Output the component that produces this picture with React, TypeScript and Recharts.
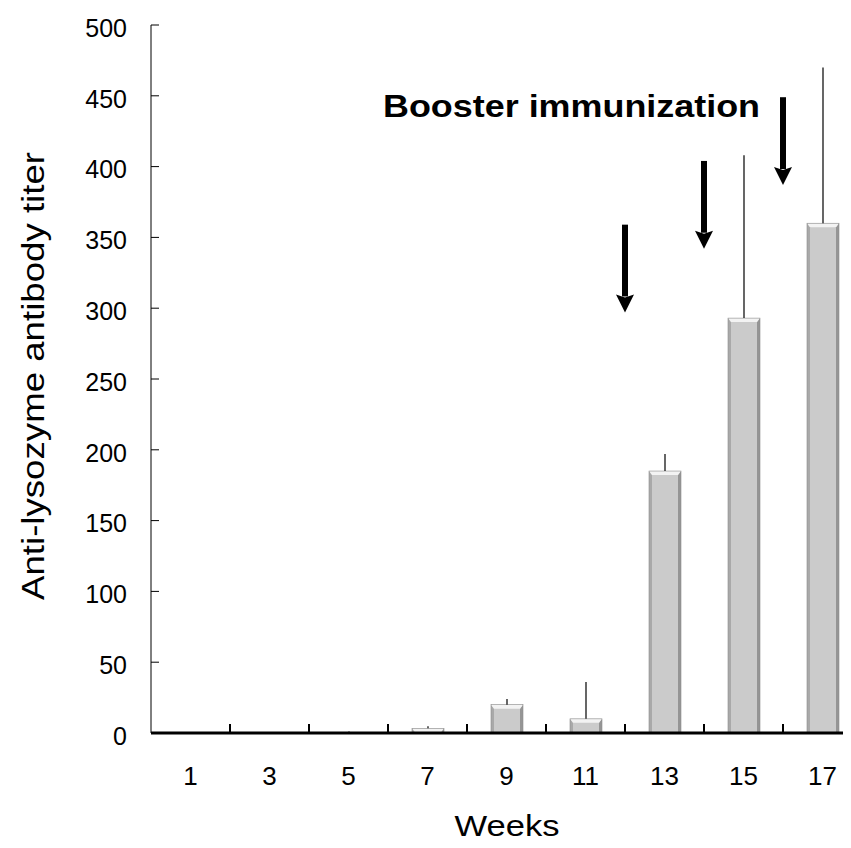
import React from "react";
import { BarChart, Bar, XAxis, YAxis, ErrorBar, ReferenceLine } from "recharts";

// weeks after first immunization
const weeks = ["1", "3", "5", "7", "9", "11", "13", "15", "17"];
// mean anti-lysozyme titer
const titer = [0, 0.3, 0.5, 3.3, 20, 10, 185, 293, 360];
// upper error (SD), only drawn upward
const sdUpper = [0, 0, 0.5, 1.5, 4, 26, 12, 115, 110];

const yTicks = [0, 50, 100, 150, 200, 250, 300, 350, 400, 450, 500];

// booster arrows: drawn at the right edge of these weeks' bands
const boosterAfter = ["11", "13", "15"];
const boosterFrom = [359, 404, 449];
const boosterTo = [297, 342, 387];

const data = weeks.map((w, i) => ({
  week: w,
  titer: titer[i],
  err: [0, sdUpper[i]],
}));

const FONT = '"Liberation Sans", Arial, Helvetica, sans-serif';

const CHART_W = 860;
const MARGIN = { top: 17, right: 6, bottom: 55, left: 63 };
const Y_AXIS_W = 80;
const BAND = (CHART_W - MARGIN.left - MARGIN.right - Y_AXIS_W) / weeks.length;
const X_LABEL_GAP = 34;
const Y_LABEL_GAP = 24;

function BevelBar(props: any) {
  const { x, y, width: w, height: h } = props;
  if (!h || h <= 0) return <g />;
  const b = Math.min(3, w / 4);
  const t = Math.min(4, h);
  return (
    <g>
      <rect x={x} y={y} width={w} height={h} fill="#cbcbcb" />
      <polygon
        points={`${x},${y} ${x + b},${y + t} ${x + b},${y + h} ${x},${y + h}`}
        fill="#a9a9a9"
      />
      <polygon
        points={`${x + w},${y} ${x + w - b},${y + t} ${x + w - b},${y + h} ${x + w},${y + h}`}
        fill="#959595"
      />
      <polygon
        points={`${x},${y} ${x + w},${y} ${x + w - b},${y + t} ${x + b},${y + t}`}
        fill="#f3f3f3"
      />
      <rect x={x} y={y} width={w} height={h} fill="none" stroke="#8c8c8c" strokeWidth={0.6} />
    </g>
  );
}

function Arrow(props: any) {
  const { x1, y1, y2 } = props;
  const head = 18;
  const half = 9;
  return (
    <g>
      <rect x={x1 - 3} y={y1} width={6} height={y2 - y1 - head + 2} fill="#000" />
      <polygon
        points={`${x1 - half},${y2 - head} ${x1},${y2 - head + 3} ${x1 + half},${y2 - head} ${x1},${y2}`}
        fill="#000"
      />
    </g>
  );
}

// week label plus an inward tick at the band's right edge
function WeekTick(props: any) {
  const { x, y, payload } = props;
  const axisY = y - X_LABEL_GAP;
  const last = payload.value === weeks[weeks.length - 1];
  return (
    <g>
      <text
        x={x}
        y={y}
        dy="0.71em"
        textAnchor="middle"
        fontSize={26}
        fontFamily={FONT}
        fill="#000"
      >
        {payload.value}
      </text>
      {!last && (
        <line
          x1={x + BAND / 2}
          x2={x + BAND / 2}
          y1={axisY}
          y2={axisY - 9}
          stroke="#000"
          strokeWidth={2}
        />
      )}
    </g>
  );
}

// value label plus an inward tick to the right of the axis
function TiterTick(props: any) {
  const { x, y, payload } = props;
  const axisX = x + Y_LABEL_GAP;
  return (
    <g>
      <text
        x={x}
        y={y}
        dy="0.355em"
        textAnchor="end"
        fontSize={25}
        fontFamily={FONT}
        fill="#000"
        transform="translate(0,3)"
      >
        {payload.value}
      </text>
      <line x1={axisX} x2={axisX + 8} y1={y} y2={y} stroke="#000" strokeWidth={1} />
    </g>
  );
}

export default function App() {
  return (
    <div style={{ width: 843, height: 840, overflow: "hidden", fontFamily: FONT }}>
      <BarChart
        width={CHART_W}
        height={840}
        data={data}
        margin={MARGIN}
        barSize={32}
      >
        <XAxis
          dataKey="week"
          interval={0}
          height={60}
          tickLine={false}
          tickSize={0}
          tickMargin={X_LABEL_GAP}
          axisLine={{ stroke: "#000", strokeWidth: 3 }}
          tick={WeekTick}
        />
        <YAxis
          domain={[0, 500]}
          ticks={yTicks}
          interval={0}
          width={Y_AXIS_W}
          tickLine={false}
          tickSize={0}
          tickMargin={Y_LABEL_GAP}
          axisLine={{ stroke: "#000", strokeWidth: 1 }}
          tick={TiterTick}
        />
        <Bar dataKey="titer" shape={BevelBar} isAnimationActive={false}>
          <ErrorBar
            dataKey="err"
            width={0}
            stroke="#000"
            strokeWidth={1.2}
            isAnimationActive={false}
          />
        </Bar>
        {boosterAfter.map((wk, i) => (
          <ReferenceLine
            key={wk}
            position="end"
            segment={[
              { x: wk, y: boosterFrom[i] },
              { x: wk, y: boosterTo[i] },
            ]}
            shape={Arrow}
          />
        ))}
        <text
          x={563.5}
          y={108.7}
          textAnchor="middle"
          fontFamily={FONT}
          fontWeight="bold"
          fontSize={32}
          textLength={377}
          lengthAdjust="spacingAndGlyphs"
          fill="#000"
        >
          Booster immunization
        </text>
        <text
          x={499}
          y={828}
          textAnchor="middle"
          fontFamily={FONT}
          fontSize={30}
          textLength={105}
          lengthAdjust="spacingAndGlyphs"
          fill="#000"
        >
          Weeks
        </text>
        <text
          x={-368}
          y={36}
          transform="rotate(-90)"
          textAnchor="middle"
          fontFamily={FONT}
          fontSize={31}
          textLength={448}
          lengthAdjust="spacingAndGlyphs"
          fill="#000"
        >
          Anti-lysozyme antibody titer
        </text>
      </BarChart>
    </div>
  );
}
